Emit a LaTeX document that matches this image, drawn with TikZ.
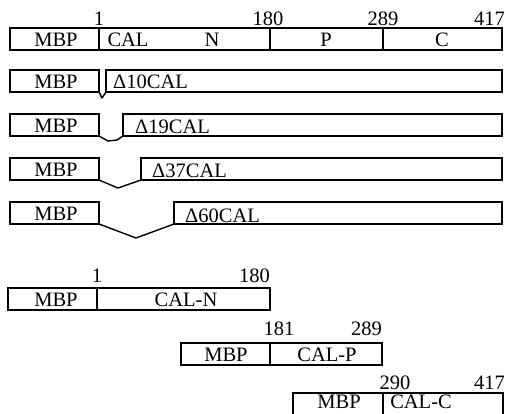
\documentclass[tikz,border=0pt]{standalone}
\usepackage{fontspec}
\setmainfont{Liberation Serif}
\newcommand\lfont{\fontsize{20.5}{20.5}\selectfont}
\tikzset{
 seg/.style={draw, line width=1.4pt, rectangle, inner sep=0pt, outer sep=0pt, anchor=north west, minimum height=22pt},
 lab/.style={anchor=base, inner sep=0pt, font=\lfont},
 labl/.style={anchor=base west, inner sep=0pt, font=\lfont},
 labr/.style={anchor=base east, inner sep=0pt, font=\lfont},
 gap/.style={line width=1.4pt, line join=round}
}
\begin{document}
\begin{tikzpicture}[x=1pt,y=-1pt]
\useasboundingbox (0,0) rectangle (506,413);
% row 1
\node[seg, minimum width=89pt] (r1m) at (10,28) {};
\node[seg, minimum width=171pt] (r1n) at (99,28) {};
\node[seg, minimum width=113pt] (r1p) at (270,28) {};
\node[seg, minimum width=119pt] (r1c) at (383,28) {};
\node[lab] (t1m) at (56,46.5) {MBP};
\node[lab] (t1cal) at (128,46.5) {CAL};
\node[lab] (t1n) at (212,46.5) {N};
\node[lab] (t1p) at (326,46.5) {P};
\node[lab] (t1c) at (442,46.5) {C};
\node[lab] (n1a) at (99,25) {1};
\node[lab] (n1b) at (268,25) {180};
\node[lab] (n1c) at (383,25) {289};
\node[labr] (n1d) at (505,25) {417};
% row 2
\node[seg, minimum width=89pt] (r2m) at (10,70) {};
\node[seg, minimum width=396pt] (r2c) at (106,70) {};
\coordinate (v2) at (102,98);
\draw[gap] (r2m.south east) -- (v2) -- (r2c.south west);
\node[lab] (t2m) at (56,88.5) {MBP};
\node[labl] (t2c) at (113,88.5) {Δ10CAL};
% row 3
\node[seg, minimum width=89pt] (r3m) at (10,114) {};
\node[seg, minimum width=379pt] (r3c) at (123,114) {};
\coordinate (v3a) at (108,141);
\coordinate (v3b) at (117,140);
\draw[gap] (r3m.south east) -- (v3a) -- (v3b) -- (r3c.south west);
\node[lab] (t3m) at (56,132.5) {MBP};
\node[labl] (t3c) at (135,133.5) {Δ19CAL};
% row 4
\node[seg, minimum width=89pt] (r4m) at (10,158) {};
\node[seg, minimum width=361pt] (r4c) at (141,158) {};
\coordinate (v4) at (118,188);
\draw[gap] (r4m.south east) -- (v4) -- (r4c.south west);
\node[lab] (t4m) at (56,176.5) {MBP};
\node[labl] (t4c) at (152,177.5) {Δ37CAL};
% row 5
\node[seg, minimum width=89pt] (r5m) at (10,202) {};
\node[seg, minimum width=328pt] (r5c) at (174,202) {};
\coordinate (v5) at (136,238);
\draw[gap] (r5m.south east) -- (v5) -- (r5c.south west);
\node[lab] (t5m) at (56,220) {MBP};
\node[labl] (t5c) at (185,222) {Δ60CAL};
% row 6
\node[seg, minimum width=89pt] (r6m) at (8,288) {};
\node[seg, minimum width=173pt] (r6n) at (97,288) {};
\node[lab] (t6m) at (56,306.5) {MBP};
\node[lab] (t6n) at (186,306.5) {CAL-N};
\node[lab] (n6a) at (97,282) {1};
\node[labr] (n6b) at (270,282) {180};
% row 7
\node[seg, minimum width=89pt] (r7m) at (181,343) {};
\node[seg, minimum width=112pt] (r7p) at (270,343) {};
\node[lab] (t7m) at (226,361.5) {MBP};
\node[lab] (t7p) at (327,361.5) {CAL-P};
\node[lab] (n7a) at (279,335) {181};
\node[labr] (n7b) at (382,335) {289};
% row 8
\node[seg, minimum width=90pt] (r8m) at (293,393) {};
\node[seg, minimum width=120pt] (r8c) at (383,393) {};
\node[lab] (t8m) at (339,408.5) {MBP};
\node[lab] (t8c) at (421,408.5) {CAL-C};
\node[lab] (n8a) at (395,389) {290};
\node[labr] (n8b) at (505,389) {417};
\end{tikzpicture}
\end{document}
